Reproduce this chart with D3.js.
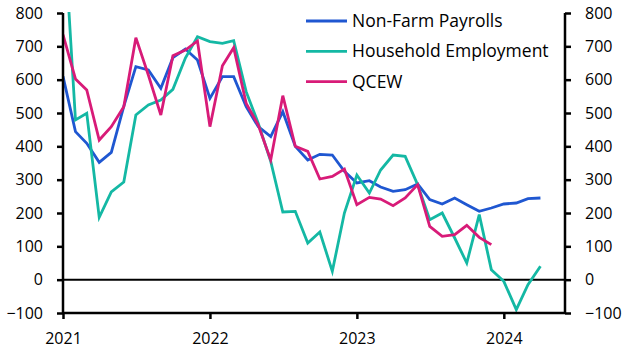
<!DOCTYPE html>
<html>
<head>
<meta charset="utf-8">
<script src="https://cdn.jsdelivr.net/npm/d3@7"></script>
<style>
  html, body { margin: 0; padding: 0; background: #fff; }
  svg { display: block; }
  text { font-family: "Open Sans", "Lato", sans-serif; fill: #000; }
</style>
</head>
<body>
<svg id="chart" width="630" height="355"></svg>
<script>
// ---- data (thousands, monthly) ----
const months = [
  "2021-01","2021-02","2021-03","2021-04","2021-05","2021-06","2021-07","2021-08","2021-09","2021-10","2021-11","2021-12",
  "2022-01","2022-02","2022-03","2022-04","2022-05","2022-06","2022-07","2022-08","2022-09","2022-10","2022-11","2022-12",
  "2023-01","2023-02","2023-03","2023-04","2023-05","2023-06","2023-07","2023-08","2023-09","2023-10","2023-11","2023-12",
  "2024-01","2024-02","2024-03","2024-04"
];
const nonFarmPayrolls = [
  610, 444, 409, 352, 382, 520, 639, 629, 574, 666, 692, 659,
  544, 609, 609, 519, 459, 429, 504, 400, 359, 376, 374, 325,
  290, 297, 278, 265, 270, 287, 240, 227, 245, 225, 205, 215,
  227, 230, 243, 245
];
const householdEmployment = [
  1100, 479, 499, 187, 263, 293, 494, 524, 539, 571, 665, 729,
  714, 709, 717, 564, 469, 355, 203, 205, 110, 143, 25, 200,
  314, 260, 329, 374, 370, 285, 180, 200, 125, 50, 195, 30,
  -5, -90, -15, 40
];
const qcew = [
  735, 602, 569, 419, 459, 519, 726, 614, 494, 672, 689, 716,
  459, 642, 696, 529, 464, 359, 552, 400, 385, 302, 310, 332,
  225, 247, 242, 222, 245, 285, 160, 130, 135, 163, 127, 105
];
const seriesNames = ["Non-Farm Payrolls", "Household Employment", "QCEW"];
const seriesColors = ["#1f57d1", "#14b8a4", "#d81b78"];
const yTicks = [-100, 0, 100, 200, 300, 400, 500, 600, 700, 800];
const xTickYears = ["2021", "2022", "2023", "2024"];
const xDomain = ["2021-01", "2024-06"];

// ---- layout ----
const svg = d3.select("#chart");
const pL = 63, pR = 565, pT = 13, pB = 313;
const parse = d3.timeParse("%Y-%m");

const x = d3.scaleTime().domain(xDomain.map(parse)).range([pL, pR]);
const y = d3.scaleLinear().domain([-100, 800]).range([pB, pT]);

const series = [nonFarmPayrolls, householdEmployment, qcew].map((vals, i) => ({
  name: seriesNames[i],
  color: seriesColors[i],
  values: vals.map((v, j) => ({ date: parse(months[j]), value: v }))
}));

svg.append("defs").append("clipPath").attr("id", "plotclip")
  .append("rect").attr("x", pL).attr("y", pT - 1).attr("width", pR - pL).attr("height", pB - pT + 1);

// zero line
svg.append("line")
  .attr("x1", pL).attr("x2", pR)
  .attr("y1", y(0)).attr("y2", y(0))
  .attr("stroke", "#000").attr("stroke-width", 2);

const line = d3.line().x(d => x(d.date)).y(d => y(d.value));

const g = svg.append("g").attr("clip-path", "url(#plotclip)");
series.forEach(s => {
  g.append("path")
    .datum(s.values)
    .attr("fill", "none")
    .attr("stroke", s.color)
    .attr("stroke-width", 2.8)
    .attr("stroke-linejoin", "miter")
    .attr("d", line);
});

// axes
const fontSize = 16;
const leftAxis = d3.axisLeft(y).tickValues(yTicks).tickSize(6).tickPadding(14).tickFormat(d3.format("d"));
const rightAxis = d3.axisRight(y).tickValues(yTicks).tickSize(6).tickPadding(14).tickFormat(d3.format("d"));
const bottomAxis = d3.axisBottom(x).tickValues(xTickYears.map(v => d3.timeParse("%Y")(v)))
  .tickSize(6).tickPadding(14).tickFormat(d3.timeFormat("%Y"));

function style(ax) {
  ax.select(".domain").attr("stroke", "#000").attr("stroke-width", 2.5);
  ax.selectAll(".tick line").attr("stroke", "#000").attr("stroke-width", 2.5);
  ax.selectAll("text").attr("font-size", fontSize).attr("font-family", "'Open Sans', sans-serif").attr("fill", "#000");
}
const la = svg.append("g").attr("transform", `translate(${pL},0)`).call(leftAxis);
la.select(".domain").attr("d", `M0,${pT}V${pB}`);
style(la);
const ra = svg.append("g").attr("transform", `translate(${pR},0)`).call(rightAxis);
ra.select(".domain").attr("d", `M0,${pT}V${pB}`);
style(ra);
const ba = svg.append("g").attr("transform", `translate(0,${pB})`).call(bottomAxis);
ba.select(".domain").attr("d", `M${pL},0H${pR}`);
style(ba);

// legend
const legend = svg.append("g");
series.forEach((s, i) => {
  const ly = 21 + i * 30.3;
  legend.append("line").attr("x1", 306).attr("x2", 347).attr("y1", ly).attr("y2", ly)
    .attr("stroke", s.color).attr("stroke-width", 2.8);
  legend.append("text").attr("x", 352).attr("y", ly).attr("dy", "0.35em")
    .attr("font-size", 17.5).text(s.name);
});
</script>
</body>
</html>
